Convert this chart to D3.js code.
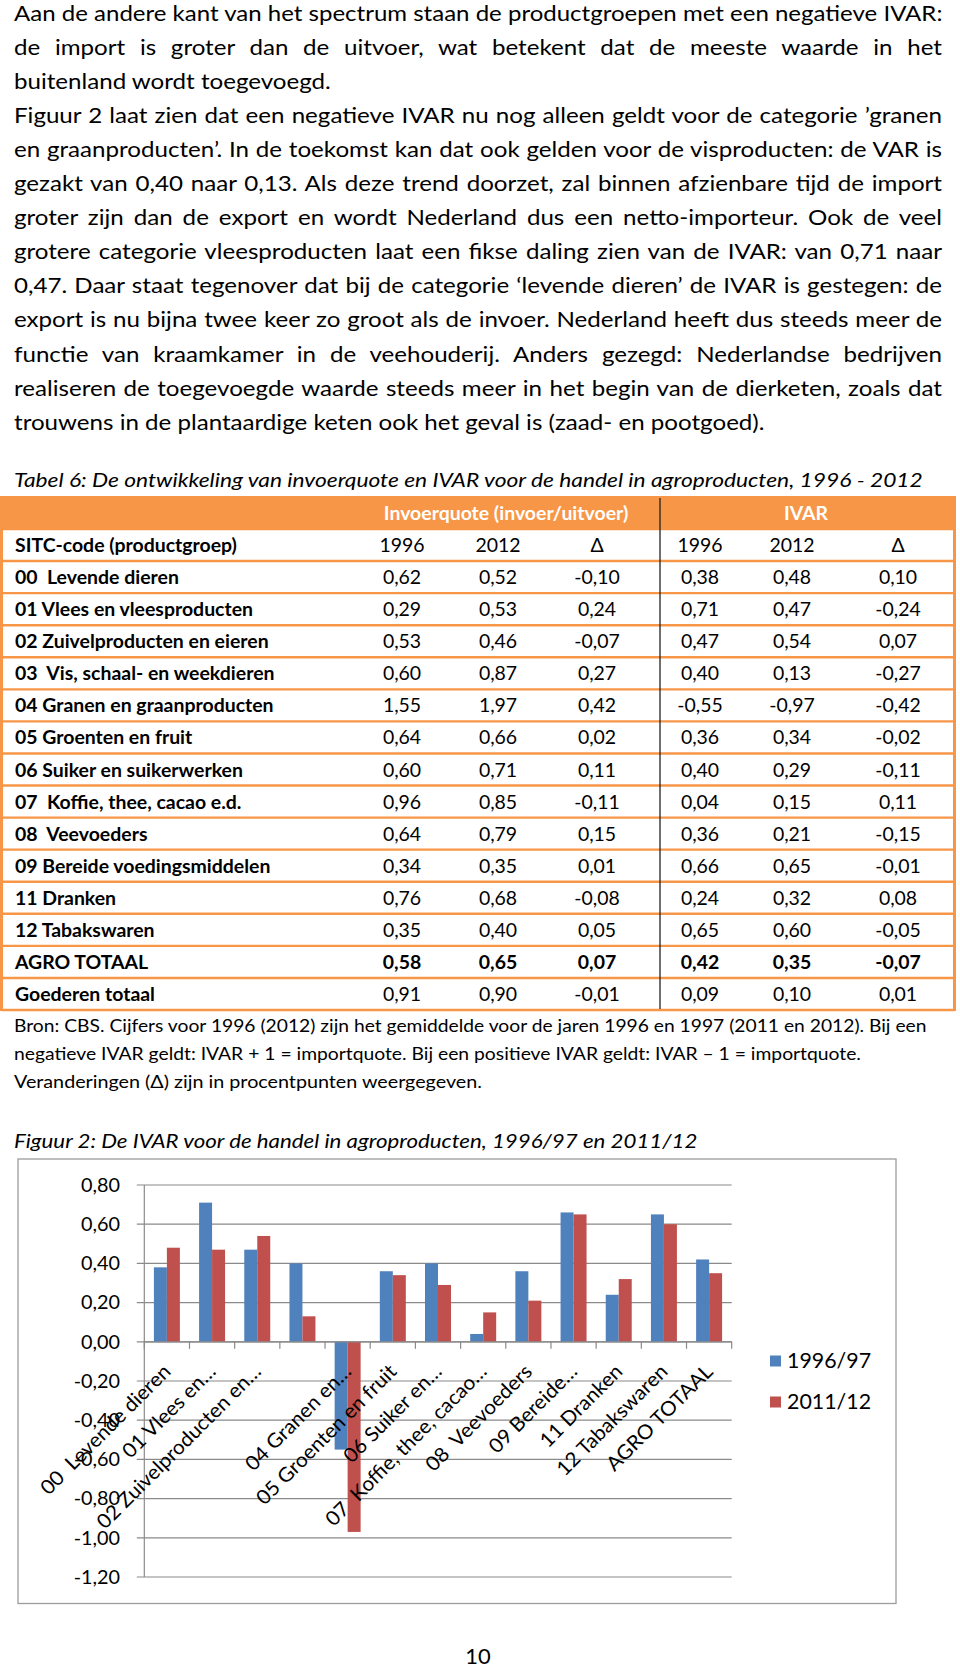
<!DOCTYPE html>
<html><head><meta charset="utf-8">
<script src="https://cdn.jsdelivr.net/npm/d3@7"></script>
<style>html,body{margin:0;padding:0;background:#fff}svg{display:block}text{white-space:pre}</style>
</head><body>
<script>
// ---------- DATA ----------
const bodyLines = [
  "Aan de andere kant van het spectrum staan de productgroepen met een negatieve IVAR:",
  "de import is groter dan de uitvoer, wat betekent dat de meeste waarde in het",
  "buitenland wordt toegevoegd.",
  "Figuur 2 laat zien dat een negatieve IVAR nu nog alleen geldt voor de categorie ’granen",
  "en graanproducten’. In de toekomst kan dat ook gelden voor de visproducten: de VAR is",
  "gezakt van 0,40 naar 0,13. Als deze trend doorzet, zal binnen afzienbare tijd de import",
  "groter zijn dan de export en wordt Nederland dus een netto-importeur. Ook de veel",
  "grotere categorie vleesproducten laat een fikse daling zien van de IVAR: van 0,71 naar",
  "0,47. Daar staat tegenover dat bij de categorie ‘levende dieren’ de IVAR is gestegen: de",
  "export is nu bijna twee keer zo groot als de invoer. Nederland heeft dus steeds meer de",
  "functie van kraamkamer in de veehouderij. Anders gezegd: Nederlandse bedrijven",
  "realiseren de toegevoegde waarde steeds meer in het begin van de dierketen, zoals dat",
  "trouwens in de plantaardige keten ook het geval is (zaad- en pootgoed)."
];
const bodyJustified = [true,true,false,true,true,true,true,true,true,true,true,true,false];

const tableCaption = "Tabel 6: De ontwikkeling van invoerquote en IVAR voor de handel in agroproducten, 1996 - 2012";
const tableGroupHeaders = ["Invoerquote (invoer/uitvoer)", "IVAR"];
const tableColHeaders = ["SITC-code (productgroep)", "1996", "2012", "Δ", "1996", "2012", "Δ"];
const rowNames = ["00  Levende dieren","01 Vlees en vleesproducten","02 Zuivelproducten en eieren",
  "03  Vis, schaal- en weekdieren","04 Granen en graanproducten","05 Groenten en fruit",
  "06 Suiker en suikerwerken","07  Koffie, thee, cacao e.d.","08  Veevoeders",
  "09 Bereide voedingsmiddelen","11 Dranken","12 Tabakswaren","AGRO TOTAAL","Goederen totaal"];
const iq1996 = [0.62,0.29,0.53,0.60,1.55,0.64,0.60,0.96,0.64,0.34,0.76,0.35,0.58,0.91];
const iq2012 = [0.52,0.53,0.46,0.87,1.97,0.66,0.71,0.85,0.79,0.35,0.68,0.40,0.65,0.90];
const iqDelta = [-0.10,0.24,-0.07,0.27,0.42,0.02,0.11,-0.11,0.15,0.01,-0.08,0.05,0.07,-0.01];
const iv1996 = [0.38,0.71,0.47,0.40,-0.55,0.36,0.40,0.04,0.36,0.66,0.24,0.65,0.42,0.09];
const iv2012 = [0.48,0.47,0.54,0.13,-0.97,0.34,0.29,0.15,0.21,0.65,0.32,0.60,0.35,0.10];
const ivDelta = [0.10,-0.24,0.07,-0.27,-0.42,-0.02,-0.11,0.11,-0.15,-0.01,0.08,-0.05,-0.07,0.01];
const boldRow = "AGRO TOTAAL";

const noteLines = [
  "Bron: CBS. Cijfers voor 1996 (2012) zijn het gemiddelde voor de jaren 1996 en 1997 (2011 en 2012). Bij een",
  "negatieve IVAR geldt: IVAR + 1 = importquote. Bij een positieve IVAR geldt: IVAR – 1 = importquote.",
  "Veranderingen (Δ) zijn in procentpunten weergegeven."
];

const figCaption = "Figuur 2: De IVAR voor de handel in agroproducten, 1996/97 en 2011/12";
const chartCategories = ["00 Levende dieren","01 Vlees en vleesproducten","02 Zuivelproducten en eieren",
  "03 Vis, schaal- en weekdieren","04 Granen en graanproducten","05 Groenten en fruit",
  "06 Suiker en suikerwerken","07 Koffie, thee, cacao e.d.","08 Veevoeders",
  "09 Bereide voedingsmiddelen","11 Dranken","12 Tabakswaren","AGRO TOTAAL"];
const chartTickLabels = ["00  Levende dieren","01 Vlees en…","02 Zuivelproducten en…","",
  "04 Granen en…","05 Groenten en fruit","06 Suiker en…","07  Koffie, thee, cacao…",
  "08  Veevoeders","09 Bereide…","11 Dranken","12 Tabakswaren","AGRO TOTAAL"];
const seriesNames = ["1996/97","2011/12"];
const ivar9697 = [0.38,0.71,0.47,0.40,-0.55,0.36,0.40,0.04,0.36,0.66,0.24,0.65,0.42];
const ivar1112 = [0.48,0.47,0.54,0.13,-0.97,0.34,0.29,0.15,0.21,0.65,0.32,0.60,0.35];
const yTicks = [0.8,0.6,0.4,0.2,0,-0.2,-0.4,-0.6,-0.8,-1.0,-1.2];
const pageNumber = "10";

// ---------- HELPERS ----------
const FONT = "Lato, 'Open Sans', sans-serif";
const loc = d3.formatLocale({decimal:",", thousands:".", grouping:[3], currency:["€",""], minus:"-"});
const f2 = loc.format(".2f");

const svg = d3.select("body").append("svg").attr("width",960).attr("height",1671);
svg.append("rect").attr("width",960).attr("height",1671).attr("fill","#fff");

function T(parent, str, o){
  const t = parent.append("text").text(str)
    .attr("font-family", FONT).attr("font-size", o.size)
    .attr("font-weight", o.weight || "normal").attr("font-style", o.style || "normal")
    .attr("fill", o.fill || "#000").attr("text-anchor", o.anchor || "start")
    .attr("xml:space", "preserve");
  const w = t.node().getComputedTextLength();
  let s = o.k || 1;
  if (o.width) s = o.width / w;
  t.attr("transform", `translate(${o.x},${o.y})` + (o.rotate ? ` rotate(${o.rotate})` : "") + ` scale(${s},1)`);
  return t;
}
function measure(str, size, weight, style){
  const t = svg.append("text").text(str).attr("font-family",FONT).attr("font-size",size)
    .attr("font-weight",weight||"normal").attr("font-style",style||"normal");
  const w = t.node().getComputedTextLength(); t.remove(); return w;
}

// ---------- BODY TEXT ----------
const body = svg.append("g");
const bodyX = 14, bodyW = 928, bodySize = 20.5, bodyY0 = 20.5, bodyLH = 34.1;
const kBody = 751 / measure(bodyLines[12], bodySize);
bodyLines.forEach((line,i)=>{
  const y = bodyY0 + i*bodyLH;
  const t = T(body, line, {x:bodyX, y, size:bodySize, k:kBody});
  if (bodyJustified[i]) {
    const w0 = t.node().getComputedTextLength();
    const n = (line.match(/ /g)||[]).length;
    const ws = (bodyW/kBody - w0)/n;
    if (ws >= 0) t.style("word-spacing", ws + "px");
    else t.attr("transform", `translate(${bodyX},${y}) scale(${bodyW/w0},1)`);
  }
});

// ---------- TABLE ----------
const tab = svg.append("g");
T(tab, tableCaption, {x:14, y:487, size:19.5, style:"italic", width:909});
const orange = "#F79646";
const tLeft = 1.5, tRight = 954.5, hTop = 496, hBot = 529;
const rowH = (1010 - 529) / 15;
const rowY = i => hBot + i*rowH;
const colX = [15, 402, 498, 597, 700, 792, 898];
const tSize = 19.5;
const kTab = 222 / measure(tableColHeaders[0], tSize, "bold");

tab.append("rect").attr("x",tLeft).attr("y",hTop).attr("width",tRight-tLeft).attr("height",hBot-hTop).attr("fill",orange);
d3.range(0,16).forEach(i=>{
  tab.append("line").attr("x1",tLeft).attr("x2",tRight).attr("y1",rowY(i)).attr("y2",rowY(i))
    .attr("stroke",orange).attr("stroke-width",2.4);
});
[tLeft, tRight].forEach(x=>tab.append("line").attr("x1",x).attr("x2",x).attr("y1",hTop).attr("y2",rowY(15)+1)
  .attr("stroke",orange).attr("stroke-width",3));
tab.append("line").attr("x1",660).attr("x2",660).attr("y1",hTop+2).attr("y2",rowY(15)-1).attr("stroke","#222").attr("stroke-width",1.3);

T(tab, tableGroupHeaders[0], {x:506, y:(hTop+hBot)/2+7, size:tSize, weight:"bold", fill:"#fff", anchor:"middle", k:kTab});
T(tab, tableGroupHeaders[1], {x:806, y:(hTop+hBot)/2+7, size:tSize, weight:"bold", fill:"#fff", anchor:"middle", k:kTab});

const cy = i => rowY(i) + rowH/2 + 7;
tableColHeaders.forEach((h,j)=>{
  T(tab, h, {x:colX[j], y:cy(0), size:tSize, weight: j===0?"bold":"normal", anchor: j===0?"start":"middle", k:kTab});
});
rowNames.forEach((name,r)=>{
  const b = name === boldRow;
  const y = cy(r+1);
  T(tab, name, {x:colX[0], y, size:tSize, weight:"bold", k:kTab});
  [iq1996[r], iq2012[r], iqDelta[r], iv1996[r], iv2012[r], ivDelta[r]].forEach((v,j)=>{
    T(tab, f2(v), {x:colX[j+1], y, size:tSize, weight: b?"bold":"normal", anchor:"middle", k:kTab});
  });
});

const noteW = [912, 847, 468];
noteLines.forEach((l,i)=> T(svg, l, {x:14, y:1031.5 + i*28.2, size:17.2, width:noteW[i]}));

// ---------- CHART ----------
const ch = svg.append("g");
T(ch, figCaption, {x:14, y:1148, size:19, style:"italic", width:684});
ch.append("rect").attr("x",18).attr("y",1159).attr("width",878).attr("height",444.5)
  .attr("fill","#fff").attr("stroke","#9c9c9c").attr("stroke-width",1.3);

const x0 = 144.3, x1 = 731.7;
const y = d3.scaleLinear().domain([-1.2, 0.8]).range([1577, 1185]);
const x = d3.scaleBand().domain(chartCategories).range([x0, x1]).paddingInner(0.425).paddingOuter(0.2125);
const xs = d3.scaleBand().domain(seriesNames).range([0, x.bandwidth()]);
const colors = d3.scaleOrdinal().domain(seriesNames).range(["#4F81BD","#C0504D"]);
const gridC = "#8a8a8a";

ch.append("g").selectAll("line").data(yTicks).join("line")
  .attr("x1", x0-7.5).attr("x2", x1).attr("y1", d=>y(d)).attr("y2", d=>y(d))
  .attr("stroke", gridC).attr("stroke-width", 1.2);
const kChart = 39 / measure("0,80", 19);
yTicks.forEach(d=> T(ch, f2(d), {x:120, y:y(d)+6.7, size:19, anchor:"end", k:kChart}));

const series = [ivar9697, ivar1112];
seriesNames.forEach((s,si)=>{
  ch.append("g").selectAll("rect").data(chartCategories).join("rect")
    .attr("x", c=> x(c) + xs(s))
    .attr("width", xs.bandwidth())
    .attr("y", (c,i)=> y(Math.max(0, series[si][i])))
    .attr("height", (c,i)=> Math.abs(y(series[si][i]) - y(0)))
    .attr("fill", colors(s));
});

ch.append("line").attr("x1",x0).attr("x2",x0).attr("y1",y(0.8)).attr("y2",y(-1.2)).attr("stroke",gridC).attr("stroke-width",1.2);
ch.append("line").attr("x1",x0).attr("x2",x1).attr("y1",y(0)).attr("y2",y(0)).attr("stroke",gridC).attr("stroke-width",1.2);
const step = x.step();
d3.range(0, chartCategories.length+1).forEach(i=>{
  const xx = x0 + i*step;
  ch.append("line").attr("x1",xx).attr("x2",xx).attr("y1",y(0)).attr("y2",y(0)+7).attr("stroke",gridC).attr("stroke-width",1.2);
});

chartCategories.forEach((c,i)=>{
  const lbl = chartTickLabels[i];
  if (!lbl) return;
  const cx = x(c) + x.bandwidth()/2;
  T(ch, lbl, {x: cx+5, y: y(0)+31, size:20, anchor:"end", rotate:-45, k:kChart});
});

seriesNames.forEach((s,i)=>{
  const ly = 1361 + i*41;
  ch.append("rect").attr("x",770).attr("y",ly-5.5).attr("width",11).attr("height",11).attr("fill",colors(s));
  T(ch, s, {x:787, y:ly+7, size:20.5, k:kChart});
});

T(svg, pageNumber, {x:478, y:1664, size:21, anchor:"middle", k:kChart});
</script>
</body></html>
